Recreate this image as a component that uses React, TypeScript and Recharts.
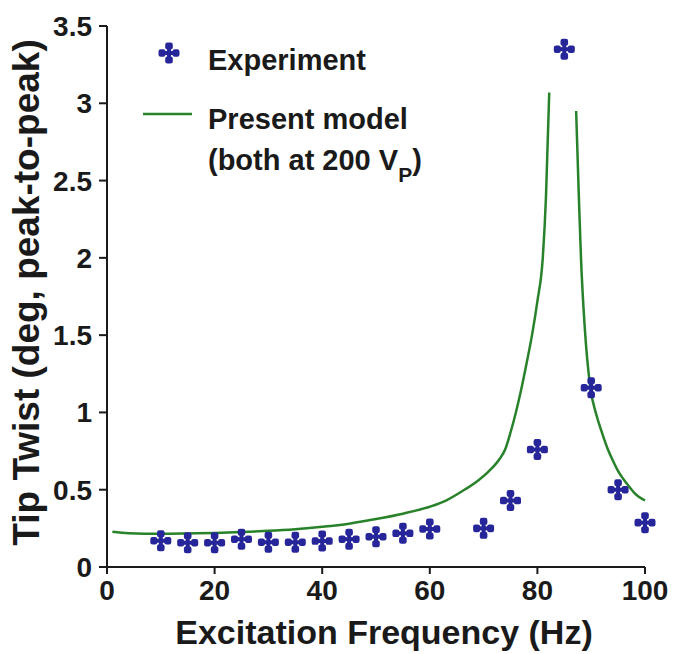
import { ComposedChart, Line, Scatter, XAxis, YAxis, Legend } from "recharts";

// measured points (Hz, deg p-p)
const expFreq = [10, 15, 20, 25, 30, 35, 40, 45, 50, 55, 60, 70, 75, 80, 85, 90, 95, 100];
const expTwist = [0.17, 0.157, 0.157, 0.18, 0.16, 0.16, 0.168, 0.18, 0.196, 0.218, 0.246, 0.25, 0.43, 0.76, 3.35, 1.16, 0.5, 0.287];

// model curve, below resonance
const modelLoFreq = [1, 4, 7, 10, 15, 20, 25, 30, 35, 40, 45, 50, 55, 60, 63, 66, 69, 71, 73, 74, 75, 76, 77, 78, 79, 80, 81, 81.6, 82.2];
const modelLoTwist = [0.228, 0.218, 0.215, 0.215, 0.217, 0.22, 0.226, 0.234, 0.245, 0.26, 0.28, 0.31, 0.345, 0.39, 0.43, 0.49, 0.56, 0.62, 0.7, 0.76, 0.87, 1.0, 1.15, 1.32, 1.5, 1.72, 2.0, 2.4, 3.07];

// model curve, above resonance
const modelHiFreq = [87.2, 87.7, 88.1, 88.8, 89.8, 91, 92, 93, 94, 95, 96.6, 98, 100];
const modelHiTwist = [2.95, 2.4, 2.0, 1.55, 1.17, 0.98, 0.87, 0.77, 0.69, 0.62, 0.54, 0.48, 0.43];

const xTicks = [0, 20, 40, 60, 80, 100];
const yTicks = [0, 0.5, 1, 1.5, 2, 2.5, 3, 3.5];

const expData = expFreq.map((f, i) => ({ f, v: expTwist[i] }));
const loData = modelLoFreq.map((f, i) => ({ f, v: modelLoTwist[i] }));
const hiData = modelHiFreq.map((f, i) => ({ f, v: modelHiTwist[i] }));

const BLUE = "#26269a";
const GREEN = "#28822a";
const INK = "#1a1a1a";
const FONT = "'Liberation Sans', Arial, Helvetica, sans-serif";

// four-lobed cross marker
function Clover({ cx, cy }: { cx: number; cy: number }) {
  return (
    <g fill={BLUE}>
      <rect x={cx - 2} y={cy - 8} width={4} height={16} />
      <rect x={cx - 8} y={cy - 2} width={16} height={4} />
      <rect x={cx - 3.8} y={cy - 10.5} width={7.6} height={7} rx={2.2} />
      <rect x={cx - 3.8} y={cy + 3.5} width={7.6} height={7} rx={2.2} />
      <rect x={cx - 10.5} y={cy - 3.8} width={7} height={7.6} rx={2.2} />
      <rect x={cx + 3.5} y={cy - 3.8} width={7} height={7.6} rx={2.2} />
    </g>
  );
}

function LegendBox() {
  return (
    <svg width={300} height={170} style={{ fontFamily: FONT, fontWeight: 700 }}>
      <Clover cx={29} cy={23} />
      <text x={68} y={40} fontSize={29} fill={INK}>Experiment</text>
      <line x1={3} x2={52} y1={84} y2={84} stroke={GREEN} strokeWidth={2.5} />
      <text x={68} y={99} fontSize={29} fill={INK}>Present model</text>
      <text x={68} y={140} fontSize={29} fill={INK}>
        (both at 200 V<tspan fontSize={21} dy={12}>P</tspan><tspan dy={-12}>)</tspan>
      </text>
    </svg>
  );
}

const YTitle = (props: any) => {
  const vb = props.viewBox || { x: 0, y: 26, width: 107, height: 541 };
  const x = vb.x + 39;
  const y = vb.y + vb.height / 2 - 4;
  return (
    <text x={x} y={y} transform={`rotate(-90 ${x} ${y})`} textAnchor="middle"
      fontFamily={FONT} fontWeight={700} fontSize={37} fill={INK}>
      Tip Twist (deg, peak-to-peak)
    </text>
  );
};

const XTitle = (props: any) => {
  const vb = props.viewBox || { x: 107, y: 567, width: 538, height: 87 };
  return (
    <text x={vb.x + vb.width / 2 + 8} y={vb.y + 77} textAnchor="middle"
      fontFamily={FONT} fontWeight={700} fontSize={34} fill={INK}>
      Excitation Frequency (Hz)
    </text>
  );
};

export default function App() {
  const tick = { fontFamily: FONT, fontWeight: 700, fontSize: 28, fill: INK };
  return (
    <div style={{ width: 673, height: 654, background: "#fff" }}>
      <style>{`body { margin: 0; }`}</style>
      <ComposedChart width={673} height={654} margin={{ top: 26, right: 28, left: 0, bottom: 0 }}>
        <XAxis
          type="number"
          dataKey="f"
          domain={[0, 100]}
          ticks={xTicks}
          height={87}
          tick={tick}
          tickSize={7}
          tickMargin={6}
          stroke={INK}
          strokeWidth={2}
          label={XTitle}
        />
        <YAxis
          type="number"
          dataKey="v"
          domain={[0, 3.5]}
          ticks={yTicks}
          width={107}
          tick={tick}
          tickSize={8}
          tickMargin={7}
          stroke={INK}
          strokeWidth={2}
          label={YTitle}
        />
        <Legend
          layout="vertical"
          align="center"
          verticalAlign="middle"
          content={() => <LegendBox />}
          wrapperStyle={{ left: 140, top: 30, width: 300 }}
        />
        <Line data={loData} dataKey="v" type="monotone" stroke={GREEN} strokeWidth={2.5} dot={false} isAnimationActive={false} />
        <Line data={hiData} dataKey="v" type="monotone" stroke={GREEN} strokeWidth={2.5} dot={false} isAnimationActive={false} />
        <Scatter data={expData} dataKey="v" shape={(p: any) => <Clover cx={p.cx} cy={p.cy} />} isAnimationActive={false} />
      </ComposedChart>
    </div>
  );
}
